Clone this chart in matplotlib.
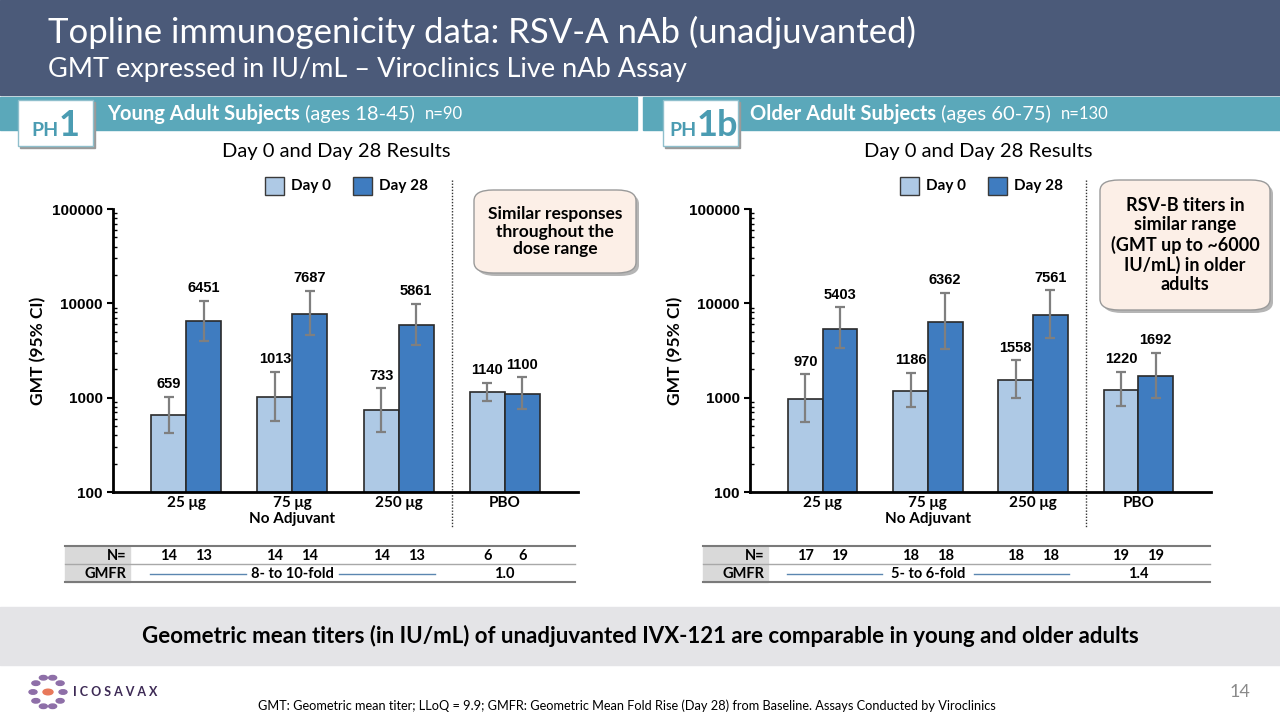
import matplotlib
matplotlib.use("Agg")
import matplotlib.pyplot as plt
from matplotlib.patches import Rectangle, FancyBboxPatch, Circle
from matplotlib.transforms import blended_transform_factory
import numpy as np

plt.rcParams['font.family'] = ['Lato', 'DejaVu Sans']

# ---- data ----
groups = ["25 μg", "75 μg", "250 μg", "PBO"]

young_day0 = [659, 1013, 733, 1140]
young_day0_lo = [427, 566, 432, 922]
young_day0_hi = [1020, 1870, 1260, 1440]
young_day28 = [6451, 7687, 5861, 1100]
young_day28_lo = [3990, 4620, 3650, 753]
young_day28_hi = [10700, 13500, 9930, 1640]
young_n0 = [14, 14, 14, 6]
young_n28 = [13, 14, 13, 6]

older_day0 = [970, 1186, 1558, 1220]
older_day0_lo = [548, 795, 1000, 817]
older_day0_hi = [1770, 1830, 2490, 1890]
older_day28 = [5403, 6362, 7561, 1692]
older_day28_lo = [3330, 3260, 4330, 993]
older_day28_hi = [9080, 13000, 13800, 2980]
older_n0 = [17, 18, 18, 19]
older_n28 = [19, 18, 18, 19]

young_gmfr = ["8- to 10-fold", "1.0"]
older_gmfr = ["5- to 6-fold", "1.4"]

C_DAY0 = "#aec9e5"
C_DAY28 = "#3f7cc0"
C_HEAD = "#4b5a79"
C_TEAL = "#5ba8ba"
C_PH = "#4b9cb2"
ARIAL = ['Liberation Sans', 'DejaVu Sans']

W, H = 1280, 720
fig = plt.figure(figsize=(12.8, 7.2), dpi=100)


def rect(x0, y0, x1, y1):
    return [x0 / W, 1 - y1 / H, (x1 - x0) / W, (y1 - y0) / H]


def fx(x):
    return x / W


def fy(y):
    return 1 - y / H


def runs(x, y, parts, **kw):
    # place text pieces one after another on a line
    r = fig.canvas.get_renderer()
    for s, props in parts:
        t = fig.text(x, y, s, **kw, **props)
        bb = t.get_window_extent(renderer=r)
        x += bb.width / W


# ---- header ----
fig.patches.append(Rectangle((0, fy(95)), 1, 95 / H, transform=fig.transFigure,
                             color=C_HEAD, zorder=0))
fig.text(fx(48), fy(32), "Topline immunogenicity data: RSV-A nAb (unadjuvanted)",
         color="white", fontsize=25, va="center")
fig.text(fx(48), fy(70), "GMT expressed in IU/mL – Viroclinics Live nAb Assay",
         color="white", fontsize=19.5, va="center")

# teal bands
for x0, x1 in [(0, 637), (643, 1280)]:
    fig.patches.append(Rectangle((fx(x0), fy(130)), (x1 - x0) / W, 33 / H,
                                 transform=fig.transFigure, color=C_TEAL, zorder=0))

runs(fx(107), fy(114), [("Young Adult Subjects", dict(fontweight="bold", fontsize=14.5)),
                        (" (ages 18-45)  ", dict(fontsize=14.5)),
                        ("n=90", dict(fontsize=12))], color="white", va="center")
runs(fx(750), fy(114), [("Older Adult Subjects", dict(fontweight="bold", fontsize=14.5)),
                        (" (ages 60-75)  ", dict(fontsize=14.5)),
                        ("n=130", dict(fontsize=12))], color="white", va="center")

# PH boxes
for x0, big in [(18, "1"), (663, "1b")]:
    fig.patches.append(Rectangle((fx(x0 + 2), fy(148)), 75 / W, 46 / H,
                                 transform=fig.transFigure, color="#9a9a9a", zorder=1))
    fig.patches.append(Rectangle((fx(x0), fy(146)), 75 / W, 46 / H,
                                 transform=fig.transFigure, facecolor="white",
                                 edgecolor="#8fbfcc", lw=1, zorder=2))
    runs(fx(x0 + 13 if big == "1" else x0 + 6), fy(136),
         [("PH", dict(fontsize=14, fontweight="bold")), (big, dict(fontsize=26, fontweight="bold"))],
         color=C_PH, va="baseline", zorder=3)

fig.text(fx(336), fy(151), "Day 0 and Day 28 Results", fontsize=14.5, ha="center", va="center")
fig.text(fx(978), fy(151), "Day 0 and Day 28 Results", fontsize=14.5, ha="center", va="center")


def panel(ax_rect, d0, d0lo, d0hi, d28, d28lo, d28hi, n0, n28, gmfr, legx, table_x0, table_x1):
    ax = fig.add_axes(ax_rect)
    x = np.arange(len(groups))
    bw = 0.33
    e0 = [np.subtract(d0, d0lo), np.subtract(d0hi, d0)]
    e28 = [np.subtract(d28, d28lo), np.subtract(d28hi, d28)]
    ax.bar(x - bw / 2, d0, bw, color=C_DAY0, edgecolor="#2a2a2a", lw=1.2,
           yerr=e0, error_kw=dict(ecolor="#7f7f7f", elinewidth=1.6, capsize=3.5, capthick=1.6))
    ax.bar(x + bw / 2, d28, bw, color=C_DAY28, edgecolor="#2a2a2a", lw=1.2,
           yerr=e28, error_kw=dict(ecolor="#7f7f7f", elinewidth=1.6, capsize=3.5, capthick=1.6))
    ax.set_yscale("log")
    ax.set_ylim(100, 100000)
    ax.set_xlim(-0.69, 3.69)
    for xi, v, hi in zip(x - bw / 2, d0, d0hi):
        ax.annotate(str(v), (xi, hi), xytext=(0, 4), textcoords="offset points",
                    ha="center", va="bottom", fontsize=10.5, fontweight="bold", family=ARIAL)
    for xi, v, hi in zip(x + bw / 2, d28, d28hi):
        ax.annotate(str(v), (xi, hi), xytext=(0, 4), textcoords="offset points",
                    ha="center", va="bottom", fontsize=10.5, fontweight="bold", family=ARIAL)
    for s in ["top", "right"]:
        ax.spines[s].set_visible(False)
    ax.spines["left"].set_linewidth(2)
    ax.spines["bottom"].set_linewidth(2)
    ax.set_yticks([100, 1000, 10000, 100000])
    ax.set_yticklabels(["100", "1000", "10000", "100000"], fontweight="bold", family=ARIAL,
                       fontsize=11)
    ax.tick_params(axis="y", which="major", length=4, width=1.5, direction="out")
    ax.tick_params(axis="y", which="minor", length=3, width=1, direction="in")
    ax.set_xticks(x)
    ax.set_xticklabels(groups, fontweight="bold", fontsize=11)
    ax.tick_params(axis="x", length=0, pad=3)
    ax.set_ylabel("GMT (95% CI)", fontweight="bold", fontsize=12.5, labelpad=4)
    ax.patch.set_alpha(0)
    ax.text(1, -0.095, "No Adjuvant", transform=ax.get_xaxis_transform(), ha="center",
            va="center", fontweight="bold", fontsize=11)
    # dotted separator
    bt = blended_transform_factory(ax.transData, fig.transFigure)
    ax.plot([2.5, 2.5], [fy(180), fy(527)], transform=bt, color="#333333", lw=1,
            ls=(0, (1, 1.2)), clip_on=False)

    # legend
    for i, (lab, c) in enumerate([("Day 0", C_DAY0), ("Day 28", C_DAY28)]):
        bx = legx + i * 88
        fig.patches.append(Rectangle((fx(bx), fy(195)), 19 / W, 18 / H, transform=fig.transFigure,
                                     facecolor=c, edgecolor="#3a3a3a", lw=1))
        fig.text(fx(bx + 26), fy(186), lab, fontweight="bold", fontsize=11, va="center")

    # table
    for yy, c, lw in [(546, "#7a7a7a", 1.5), (564, "#a8a8a8", 1), (582, "#7a7a7a", 1.5)]:
        fig.add_artist(plt.Line2D([fx(table_x0), fx(table_x1)], [fy(yy), fy(yy)], color=c, lw=lw))
    for y0, lab in [(547, "N="), (565, "GMFR")]:
        fig.patches.append(Rectangle((fx(table_x0), fy(y0 + 17)), 65 / W, 17 / H,
                                     transform=fig.transFigure, color="#d9d9d9", zorder=0))
        fig.text(fx(table_x0 + 61), fy(y0 + 8.5), lab, ha="right", va="center",
                 fontweight="bold", fontsize=10.5)
    for xi, v in zip(x - bw / 2, n0):
        ax.text(xi, fy(555.5), str(v), transform=bt, ha="center", va="center",
                fontweight="bold", fontsize=10.5)
    for xi, v in zip(x + bw / 2, n28):
        ax.text(xi, fy(555.5), str(v), transform=bt, ha="center", va="center",
                fontweight="bold", fontsize=10.5)
    ty = fy(573.5)
    ax.text(1, ty, gmfr[0], transform=bt, ha="center", va="center", fontweight="bold",
            fontsize=10.5)
    ax.text(3, ty, gmfr[1], transform=bt, ha="center", va="center", fontweight="bold",
            fontsize=10.5)
    ax.plot([-0.34, 0.56], [ty, ty], transform=bt, color="#5b86b0", lw=1, clip_on=False)
    ax.plot([1.44, 2.34], [ty, ty], transform=bt, color="#5b86b0", lw=1, clip_on=False)
    return ax


panel(rect(113, 209, 578, 492), young_day0, young_day0_lo, young_day0_hi,
      young_day28, young_day28_lo, young_day28_hi, young_n0, young_n28, young_gmfr,
      265, 65, 575)
panel(rect(750, 209, 1211, 492), older_day0, older_day0_lo, older_day0_hi,
      older_day28, older_day28_lo, older_day28_hi, older_n0, older_n28, older_gmfr,
      900, 703, 1210)

# callouts
for (x0, y0, x1, y1), txt, fs in [((474, 190, 636, 273), "Similar responses\nthroughout the\ndose range", 12.5),
                                  ((1100, 180, 1270, 310),
                                   "RSV-B titers in\nsimilar range\n(GMT up to ~6000\nIU/mL) in older\nadults", 13)]:
    fig.patches.append(FancyBboxPatch((fx(x0 + 3), fy(y1 + 3)), (x1 - x0) / W, (y1 - y0) / H,
                                      boxstyle="round,pad=0,rounding_size=0.015",
                                      transform=fig.transFigure, facecolor="#b5b5b5",
                                      edgecolor="none", zorder=4))
    fig.patches.append(FancyBboxPatch((fx(x0), fy(y1)), (x1 - x0) / W, (y1 - y0) / H,
                                      boxstyle="round,pad=0,rounding_size=0.015",
                                      transform=fig.transFigure, facecolor="#fcefe7",
                                      edgecolor="#9a9a9a", lw=1, zorder=5))
    fig.text(fx((x0 + x1) / 2), fy((y0 + y1) / 2), txt, ha="center", va="center",
             fontweight="bold", fontsize=fs, linespacing=1.15, zorder=6)

# bottom band
fig.patches.append(Rectangle((0, fy(665)), 1, 58 / H, transform=fig.transFigure,
                             color="#e4e4e7", zorder=0))
fig.text(0.5, fy(636), "Geometric mean titers (in IU/mL) of unadjuvanted IVX-121 are comparable "
         "in young and older adults", ha="center", va="center", fontweight="bold", fontsize=16)

# footer
lx, ly = 48, 692
for k in range(10):
    a = 2 * np.pi * k / 10
    fig.patches.append(Circle((fx(lx + 15 * np.cos(a)), fy(ly + 15 * np.sin(a))), 4 / W,
                              transform=fig.transFigure, color="#8e6fa8"))
fig.patches.append(Circle((fx(lx), fy(ly)), 5 / W, transform=fig.transFigure, color="#e8785a"))
fig.text(fx(73), fy(692), "I C O S A V A X", fontsize=9, fontweight="bold", color="#3d2a55",
         va="center")
fig.text(fx(258), fy(706), "GMT: Geometric mean titer; LLoQ = 9.9; GMFR: Geometric Mean Fold Rise "
         "(Day 28) from Baseline. Assays Conducted by Viroclinics", fontsize=9.2, va="center")
fig.text(fx(1250), fy(692), "14", fontsize=13, color="#8a8a8a", ha="right", va="center")

fig.savefig("out.png", dpi=100)
